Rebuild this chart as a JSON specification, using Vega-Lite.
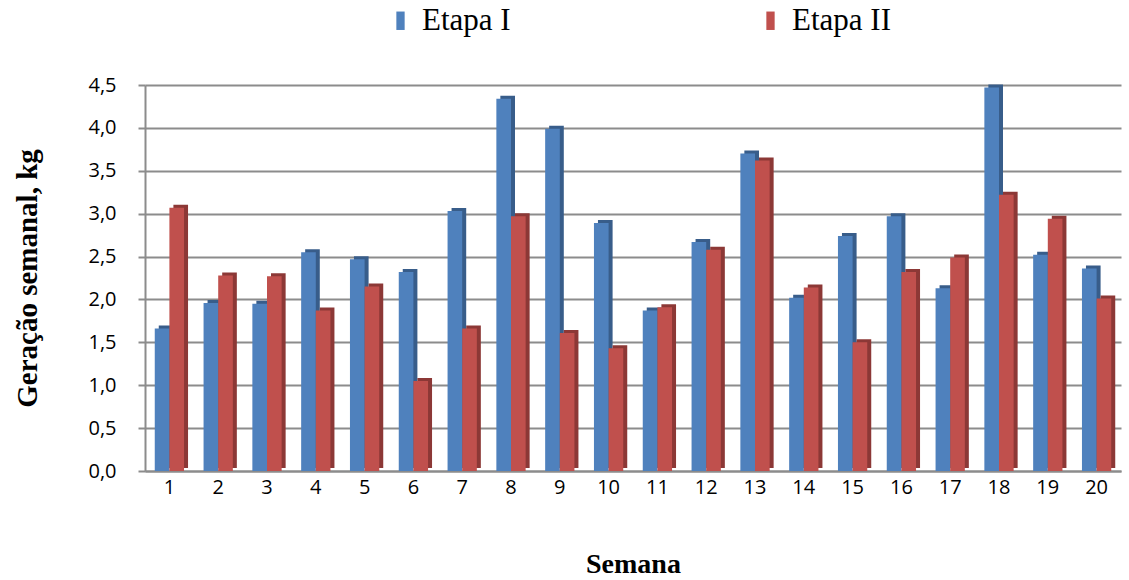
{
  "$schema": "https://vega.github.io/schema/vega-lite/v6.json",
  "width": 976,
  "height": 386,
  "autosize": "none",
  "padding": {"left": 145, "top": 85, "right": 8, "bottom": 109},
  "background": "white",
  "data": {"values": [
    {"semana": 1, "etapa": "Etapa I", "valor": 1.66}, {"semana": 1, "etapa": "Etapa II", "valor": 3.07},
    {"semana": 2, "etapa": "Etapa I", "valor": 1.96}, {"semana": 2, "etapa": "Etapa II", "valor": 2.28},
    {"semana": 3, "etapa": "Etapa I", "valor": 1.95}, {"semana": 3, "etapa": "Etapa II", "valor": 2.27},
    {"semana": 4, "etapa": "Etapa I", "valor": 2.55}, {"semana": 4, "etapa": "Etapa II", "valor": 1.87},
    {"semana": 5, "etapa": "Etapa I", "valor": 2.47}, {"semana": 5, "etapa": "Etapa II", "valor": 2.15},
    {"semana": 6, "etapa": "Etapa I", "valor": 2.32}, {"semana": 6, "etapa": "Etapa II", "valor": 1.05},
    {"semana": 7, "etapa": "Etapa I", "valor": 3.03}, {"semana": 7, "etapa": "Etapa II", "valor": 1.66},
    {"semana": 8, "etapa": "Etapa I", "valor": 4.34}, {"semana": 8, "etapa": "Etapa II", "valor": 2.97},
    {"semana": 9, "etapa": "Etapa I", "valor": 3.99}, {"semana": 9, "etapa": "Etapa II", "valor": 1.61},
    {"semana": 10, "etapa": "Etapa I", "valor": 2.89}, {"semana": 10, "etapa": "Etapa II", "valor": 1.43},
    {"semana": 11, "etapa": "Etapa I", "valor": 1.87}, {"semana": 11, "etapa": "Etapa II", "valor": 1.91},
    {"semana": 12, "etapa": "Etapa I", "valor": 2.67}, {"semana": 12, "etapa": "Etapa II", "valor": 2.58},
    {"semana": 13, "etapa": "Etapa I", "valor": 3.70}, {"semana": 13, "etapa": "Etapa II", "valor": 3.62},
    {"semana": 14, "etapa": "Etapa I", "valor": 2.02}, {"semana": 14, "etapa": "Etapa II", "valor": 2.14},
    {"semana": 15, "etapa": "Etapa I", "valor": 2.74}, {"semana": 15, "etapa": "Etapa II", "valor": 1.50},
    {"semana": 16, "etapa": "Etapa I", "valor": 2.97}, {"semana": 16, "etapa": "Etapa II", "valor": 2.32},
    {"semana": 17, "etapa": "Etapa I", "valor": 2.13}, {"semana": 17, "etapa": "Etapa II", "valor": 2.49},
    {"semana": 18, "etapa": "Etapa I", "valor": 4.47}, {"semana": 18, "etapa": "Etapa II", "valor": 3.22},
    {"semana": 19, "etapa": "Etapa I", "valor": 2.52}, {"semana": 19, "etapa": "Etapa II", "valor": 2.94},
    {"semana": 20, "etapa": "Etapa I", "valor": 2.36}, {"semana": 20, "etapa": "Etapa II", "valor": 2.01}
  ]},
  "encoding": {
    "x": {
      "field": "semana", "type": "ordinal",
      "scale": {"paddingInner": 0.4, "paddingOuter": 0.2},
      "axis": {
        "title": "Semana", "titleFont": "Liberation Serif", "titleFontSize": 28, "titleFontWeight": "bold",
        "titleColor": "black", "titlePadding": 53,
        "labelAngle": 0, "labelFont": "Open Sans", "labelFontSize": 20, "labelColor": "black", "labelPadding": 6,
        "ticks": false, "domainColor": "#8c8c8c", "domainWidth": 2, "grid": false
      }
    },
    "y": {
      "field": "valor", "type": "quantitative",
      "scale": {"domain": [0, 4.5], "nice": false},
      "axis": {
        "title": "Geração semanal, kg", "titleFont": "Liberation Serif", "titleFontSize": 29, "titleFontWeight": "bold",
        "titleColor": "black", "titlePadding": 45,
        "values": [0, 0.5, 1, 1.5, 2, 2.5, 3, 3.5, 4, 4.5],
        "labelExpr": "replace(format(datum.value, '.1f'), '.', ',')",
        "labelFont": "Open Sans", "labelFontSize": 20, "labelColor": "black", "labelPadding": 22,
        "tickSize": 7, "tickColor": "#8c8c8c", "tickWidth": 2,
        "domainColor": "#8c8c8c", "domainWidth": 2,
        "grid": true, "gridColor": "#8c8c8c", "gridWidth": 2
      }
    }
  },
  "layer": [
    {
      "mark": {"type": "bar", "yOffset": -3},
      "encoding": {
        "xOffset": {"field": "etapa", "type": "nominal", "scale": {"paddingInner": 0, "range": [4, 33.28]}},
        "color": {"field": "etapa", "type": "nominal", "scale": {"range": ["#385d8a", "#8c3836"]}, "legend": null}
      }
    },
    {
      "mark": {"type": "bar"},
      "encoding": {
        "xOffset": {"field": "etapa", "type": "nominal", "scale": {"paddingInner": 0, "range": [0, 29.28]}},
        "color": {
          "field": "etapa", "type": "nominal", "scale": {"range": ["#4f81bd", "#c0504d"]},
          "legend": {
            "title": null, "orient": "none", "legendX": 240, "legendY": -80, "direction": "horizontal",
            "symbolType": "M-0.45,-1H0.45V1H-0.45Z", "symbolSize": 340, "symbolStrokeWidth": 0,
            "labelFont": "Liberation Serif", "labelFontSize": 31, "labelColor": "black", "labelOffset": 6,
            "columnPadding": 244
          }
        }
      }
    }
  ],
  "resolve": {"scale": {"color": "independent", "xOffset": "independent"}},
  "config": {"view": {"stroke": null}}
}
